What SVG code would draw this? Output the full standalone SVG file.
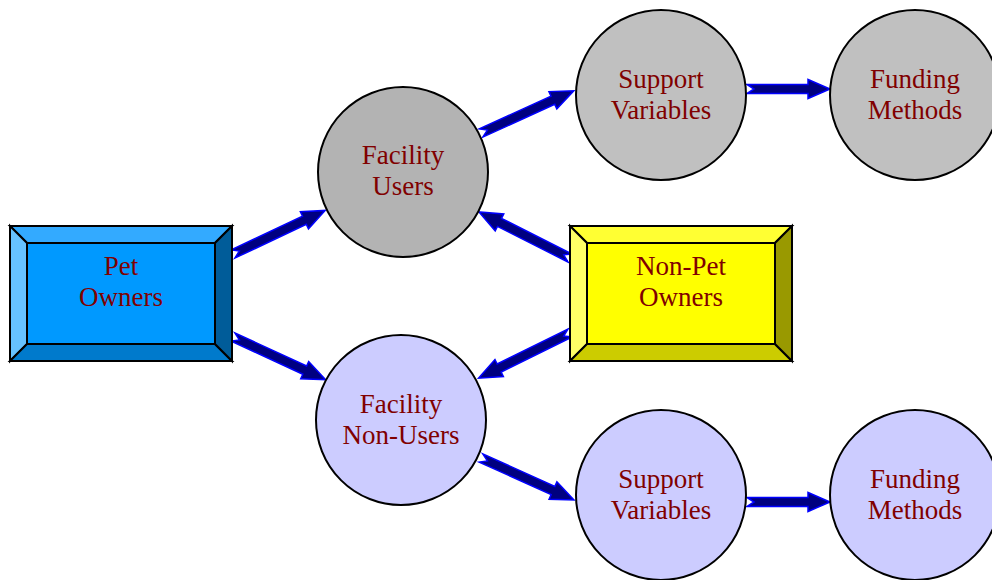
<svg xmlns="http://www.w3.org/2000/svg" width="992" height="580" viewBox="0 0 992 580">
  <style>
    .lbl { font-family: "Liberation Serif", "Times New Roman", serif; font-size: 27px; fill: #800000; text-anchor: middle; }
    .node { stroke: #000; stroke-width: 2; }
    .edge { stroke: #000; stroke-width: 2; stroke-linejoin: miter; }
    .arrow { fill: #000080; stroke: #0000ff; stroke-width: 1.5; stroke-linejoin: miter; }
  </style>
  <defs>
    <!-- notched block arrows drawn along +x, tail at the origin -->
    <path id="arrowLong" d="M0,-4.5 L79,-4.5 L79,-9.5 L102,0 L79,9.5 L79,4.5 L0,4.5 L7,0 Z"/>
    <path id="arrowShort" d="M0,-4.5 L61,-4.5 L61,-9.5 L83,0 L61,9.5 L61,4.5 L0,4.5 L7,0 Z"/>
  </defs>

  <rect width="992" height="580" fill="#ffffff"/>

  <!-- connectors -->
  <g id="connectors" class="arrow">
    <use href="#arrowLong" transform="translate(233,254) rotate(-25.3)"/>
    <use href="#arrowLong" transform="translate(233,337) rotate(24.8)"/>
    <use href="#arrowLong" transform="translate(481,133) rotate(-24.5)"/>
    <use href="#arrowShort" transform="translate(747,89)"/>
    <use href="#arrowLong" transform="translate(570,258) rotate(206.8)"/>
    <use href="#arrowLong" transform="translate(570,333) rotate(153.7)"/>
    <use href="#arrowLong" transform="translate(481,458) rotate(24.3)"/>
    <use href="#arrowShort" transform="translate(747,502)"/>
  </g>

  <!-- bevelled box: Pet Owners -->
  <g id="pet-owners">
    <polygon points="10,226 232,226 215,243 27,243" fill="#33aaff" class="edge"/>
    <polygon points="10,226 27,243 27,344 10,361" fill="#66c2ff" class="edge"/>
    <polygon points="10,361 27,344 215,344 232,361" fill="#007acc" class="edge"/>
    <polygon points="232,226 232,361 215,344 215,243" fill="#005c99" class="edge"/>
    <rect x="27" y="243" width="188" height="101" fill="#0099ff" class="edge"/>
    <rect x="10" y="226" width="222" height="135" fill="none" class="edge"/>
    <text class="lbl" x="121" y="275">Pet</text>
    <text class="lbl" x="121" y="306">Owners</text>
  </g>

  <!-- bevelled box: Non-Pet Owners -->
  <g id="non-pet-owners">
    <polygon points="570,226 792,226 775,243 587,243" fill="#ffff33" class="edge"/>
    <polygon points="570,226 587,243 587,344 570,361" fill="#ffff66" class="edge"/>
    <polygon points="570,361 587,344 775,344 792,361" fill="#cccc00" class="edge"/>
    <polygon points="792,226 792,361 775,344 775,243" fill="#999900" class="edge"/>
    <rect x="587" y="243" width="188" height="101" fill="#ffff00" class="edge"/>
    <rect x="570" y="226" width="222" height="135" fill="none" class="edge"/>
    <text class="lbl" x="681" y="275">Non-Pet</text>
    <text class="lbl" x="681" y="306">Owners</text>
  </g>

  <g id="facility-users">
    <circle cx="403" cy="172" r="85" fill="#b3b3b3" class="node"/>
    <text class="lbl" x="403" y="164">Facility</text>
    <text class="lbl" x="403" y="195">Users</text>
  </g>

  <g id="facility-non-users">
    <circle cx="401" cy="420" r="85" fill="#ccccff" class="node"/>
    <text class="lbl" x="401" y="413">Facility</text>
    <text class="lbl" x="401" y="444">Non-Users</text>
  </g>

  <g id="support-variables-users">
    <circle cx="661" cy="95" r="85" fill="#c0c0c0" class="node"/>
    <text class="lbl" x="661" y="88">Support</text>
    <text class="lbl" x="661" y="119">Variables</text>
  </g>

  <g id="funding-methods-users">
    <circle cx="915" cy="95" r="85" fill="#c0c0c0" class="node"/>
    <text class="lbl" x="915" y="88">Funding</text>
    <text class="lbl" x="915" y="119">Methods</text>
  </g>

  <g id="support-variables-non-users">
    <circle cx="661" cy="495" r="85" fill="#ccccff" class="node"/>
    <text class="lbl" x="661" y="488">Support</text>
    <text class="lbl" x="661" y="519">Variables</text>
  </g>

  <g id="funding-methods-non-users">
    <circle cx="915" cy="495" r="85" fill="#ccccff" class="node"/>
    <text class="lbl" x="915" y="488">Funding</text>
    <text class="lbl" x="915" y="519">Methods</text>
  </g>
</svg>
